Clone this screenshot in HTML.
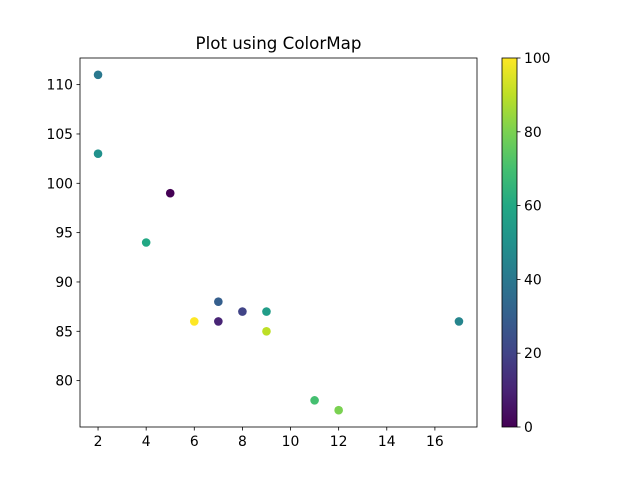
<!DOCTYPE html>
<html><head><meta charset="utf-8"><style>body{margin:0;background:#fff}svg text{font-family:"DejaVu Sans","Liberation Sans",sans-serif;font-size:13.9px;fill:#000}</style></head>
<body>
<svg id="chart" width="640" height="480">
<defs><linearGradient id="vir" x1="0" y1="1" x2="0" y2="0"></linearGradient></defs>
<text x="278.5" y="49" text-anchor="middle" style="font-size:16.7px">Plot using ColorMap</text>
<g id="plot"></g>
</svg>
<script>
const xs=[5,7,8,7,2,17,2,9,4,11,12,9,6];
const ys=[99,86,87,88,111,86,103,87,94,78,77,85,86];
const cs=[0,10,20,30,40,45,50,55,60,70,80,90,100];
const xTicks=[2,4,6,8,10,12,14,16];
const yTicks=[80,85,90,95,100,105,110];
const cTicks=[0,20,40,60,80,100];
const vir=['#440154','#482475','#414487','#355f8d','#2a788e','#21918c','#22a884','#44bf70','#7ad151','#bddf26','#fde725'];
const L=80,R=477,T=58,B=427,x0=1.25,x1=17.75,y0=75.3,y1=112.7;
const sx=v=>L+(v-x0)/(x1-x0)*(R-L), sy=v=>B-(v-y0)/(y1-y0)*(B-T);
const cbL=502,cbR=517,cy=v=>B-v/100*(B-T);
function hex(h){return [1,3,5].map(i=>parseInt(h.substr(i,2),16));}
function cmap(t){t=Math.max(0,Math.min(1,t));const p=t*10,i=Math.min(9,Math.floor(p)),f=p-i;const a=hex(vir[i]),b=hex(vir[i+1]);return 'rgb('+a.map((v,k)=>Math.round(v+(b[k]-v)*f)).join(',')+')';}
const NS='http://www.w3.org/2000/svg',g=document.getElementById('plot');
function mk(t,at,p){const e=document.createElementNS(NS,t);for(const k in at)e.setAttribute(k,at[k]);(p||g).appendChild(e);return e;}
const grad=document.getElementById('vir');
vir.forEach((c,i)=>mk('stop',{offset:i/10,'stop-color':c},grad));
xs.forEach((x,i)=>{const e=mk('circle',{cx:sx(x),cy:sy(ys[i]),r:4.3,fill:cmap(cs[i]/100)});

});
const fr=mk('rect',{x:L,y:T,width:R-L,height:B-T,fill:'none',stroke:'#000','stroke-width':0.8});


xTicks.forEach(v=>{const x=sx(v);mk('line',{x1:x,x2:x,y1:B,y2:B+3.5,stroke:'#000','stroke-width':0.8});
const t=mk('text',{x:x,y:B+19,'text-anchor':'middle'});t.textContent=v;

});
yTicks.forEach(v=>{const y=sy(v);mk('line',{x1:L-3.5,x2:L,y1:y,y2:y,stroke:'#000','stroke-width':0.8});
const t=mk('text',{x:L-7,y:y+5,'text-anchor':'end'});t.textContent=v;

});
const cb=mk('rect',{x:cbL,y:T,width:cbR-cbL,height:B-T,fill:'url(#vir)',stroke:'#000','stroke-width':0.8});


cTicks.forEach(v=>{const y=cy(v);mk('line',{x1:cbR,x2:cbR+3.5,y1:y,y2:y,stroke:'#000','stroke-width':0.8});
const t=mk('text',{x:cbR+7,y:y+5});t.textContent=v;

});
</script>
</body></html>
